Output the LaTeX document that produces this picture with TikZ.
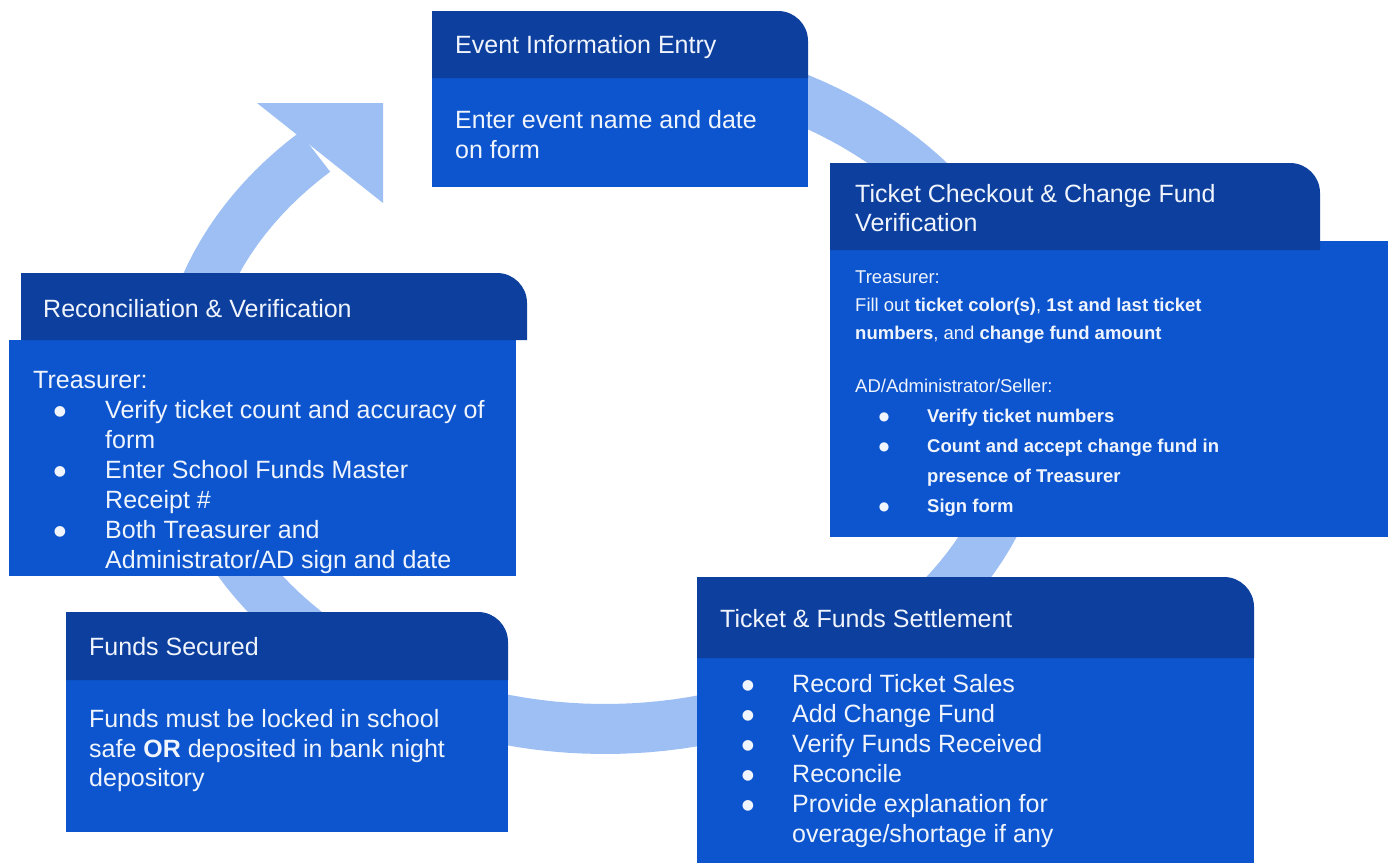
\documentclass[tikz,border=0pt]{standalone}
\usepackage{fontspec}
\setmainfont{Liberation Sans}
\newfontfamily\symfont{DejaVu Sans}
\definecolor{hdrc}{HTML}{0C3F9E}
\definecolor{bodyc}{HTML}{0C55CE}
\definecolor{ringc}{HTML}{9EBFF4}
\definecolor{txtc}{HTML}{F0F4FC}
\newcommand{\hdrshape}[4]{\fill[hdrc] (#1,#4) -- (#1,#2) -- ({#3-30},#2) .. controls ({#3-13.43},#2) and (#3,{#2+13.43}) .. (#3,{#2+30}) -- (#3,#4) -- cycle;}
\begin{document}
\begin{tikzpicture}[x=1pt,y=-1pt,
  big/.style={anchor=base west, inner sep=0pt, text=txtc, font=\fontsize{25}{30}\selectfont},
  small/.style={anchor=base west, inner sep=0pt, text=txtc, font=\fontsize{18.5}{22}\selectfont},
  bul/.style={anchor=base, inner sep=0pt, text=txtc, font=\symfont\fontsize{14}{16}\selectfont, yshift=3pt},
  sbul/.style={anchor=base, inner sep=0pt, text=txtc, font=\symfont\fontsize{12}{14}\selectfont, yshift=2pt}]
\useasboundingbox (0,0) rectangle (1395,863);
\fill[white] (0,0) rectangle (1395,863);

% ring arrow
\draw[ringc, line width=50pt] plot[domain=-90:226.7, samples=150] ({605+423*cos(\x)},{395+334*sin(\x)});
\fill[ringc] (257,103) -- (383,103) -- (383,203) -- cycle;

% Event Information Entry
\fill[bodyc] (432,78) rectangle (808,187);
\hdrshape{432}{11}{808}{78}
\node[big] (evH) at (455,53) {Event Information Entry};
\node[big] (evB1) at (455,128) {Enter event name and date};
\node[big] (evB2) at (455,158) {on form};

% Ticket Checkout
\fill[bodyc] (830,241) rectangle (1388,537);
\hdrshape{830}{163}{1320}{250}
\node[big] (tcH1) at (855,202) {Ticket Checkout \& Change Fund};
\node[big] (tcH2) at (855,231) {Verification};
\node[small] (tc1) at (855,283) {Treasurer:};
\node[small] (tc2) at (855,311) {Fill out \textbf{ticket color(s)}, \textbf{1st and last ticket}};
\node[small] (tc3) at (855,339) {\textbf{numbers}, and \textbf{change fund amount}};
\node[small] (tc4) at (855,392) {AD/Administrator/Seller:};
\node[sbul] (tcb1) at (884,422) {●};
\node[small] (tc5) at (927,422) {\textbf{Verify ticket numbers}};
\node[sbul] (tcb2) at (884,452) {●};
\node[small] (tc6) at (927,452) {\textbf{Count and accept change fund in}};
\node[small] (tc7) at (927,482) {\textbf{presence of Treasurer}};
\node[sbul] (tcb3) at (884,512) {●};
\node[small] (tc8) at (927,512) {\textbf{Sign form}};

% Reconciliation & Verification
\fill[bodyc] (9,340) rectangle (516,576);
\hdrshape{21}{273}{527}{340}
\node[big] (rcH) at (43,317) {Reconciliation \& Verification};
\node[big] (rc0) at (33,388) {Treasurer:};
\node[bul] (rcb1) at (60,418) {●};
\node[big] (rc1) at (105,418) {Verify ticket count and accuracy of};
\node[big] (rc2) at (105,448) {form};
\node[bul] (rcb2) at (60,478) {●};
\node[big] (rc3) at (105,478) {Enter School Funds Master};
\node[big] (rc4) at (105,508) {Receipt \#};
\node[bul] (rcb3) at (60,538) {●};
\node[big] (rc5) at (105,538) {Both Treasurer and};
\node[big] (rc6) at (105,568) {Administrator/AD sign and date};

% Funds Secured
\fill[bodyc] (66,680) rectangle (508,832);
\hdrshape{66}{612}{508}{680}
\node[big] (fsH) at (89,655) {Funds Secured};
\node[big] (fs1) at (89,727) {Funds must be locked in school};
\node[big] (fs2) at (89,757) {safe \textbf{OR} deposited in bank night};
\node[big] (fs3) at (89,786) {depository};

% Ticket & Funds Settlement
\fill[bodyc] (697,658) rectangle (1254,863);
\hdrshape{697}{577}{1254}{658}
\node[big] (stH) at (720,627) {Ticket \& Funds Settlement};
\node[bul] (stb1) at (748,692) {●};
\node[big] (st1) at (792,692) {Record Ticket Sales};
\node[bul] (stb2) at (748,722) {●};
\node[big] (st2) at (792,722) {Add Change Fund};
\node[bul] (stb3) at (748,752) {●};
\node[big] (st3) at (792,752) {Verify Funds Received};
\node[bul] (stb4) at (748,782) {●};
\node[big] (st4) at (792,782) {Reconcile};
\node[bul] (stb5) at (748,812) {●};
\node[big] (st5) at (792,812) {Provide explanation for};
\node[big] (st6) at (792,842) {overage/shortage if any};
\end{tikzpicture}
\end{document}
